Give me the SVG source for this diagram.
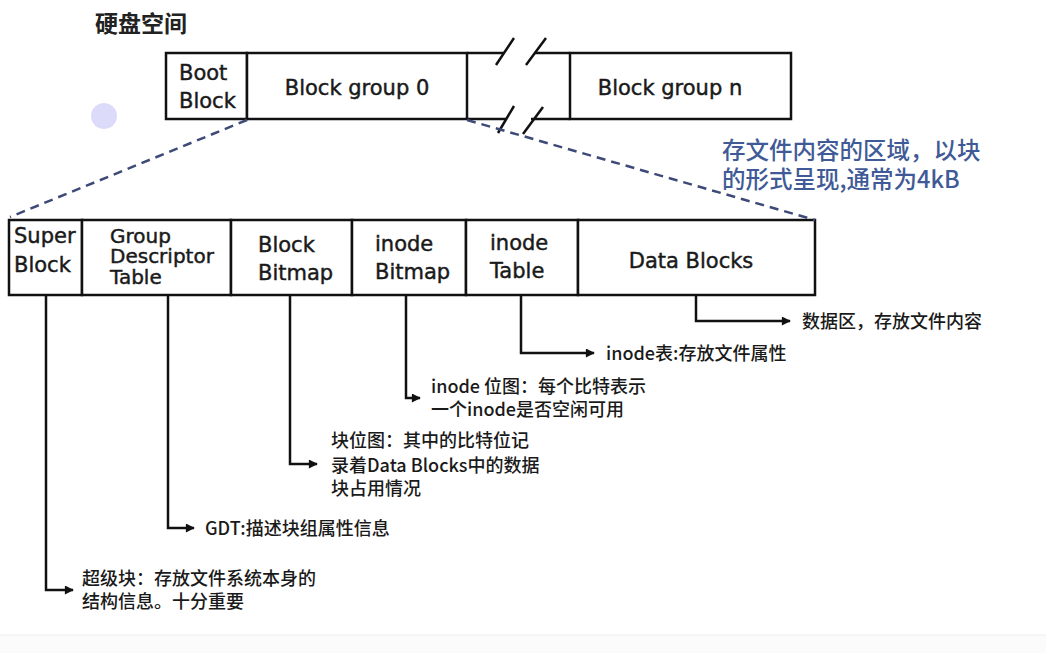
<svg xmlns="http://www.w3.org/2000/svg" width="1046" height="653" viewBox="0 0 1046 653">
  <defs>
    <marker id="arrow" viewBox="0 0 10 10" refX="9" refY="5" markerWidth="10" markerHeight="9" markerUnits="userSpaceOnUse" orient="auto">
      <path d="M0,0 L10,5 L0,10 Z" fill="#111"/>
    </marker>
    <style>
      .box { fill: #fff; stroke: #111; stroke-width: 2.5; }
      .div { stroke: #111; stroke-width: 2.5; fill: none; }
      .lbl { font-family: "DejaVu Sans", "Noto Sans", sans-serif; font-size: 21px; fill: #1a1a1a; stroke: #1a1a1a; stroke-width: 0.45; }
      .tight { font-size: 20px; }
      .note { font-family: "Noto Sans CJK SC", "Noto Sans", sans-serif; font-size: 18px; font-weight: 500; fill: #1a1a1a; }
      .blue { font-family: "Noto Sans CJK SC", sans-serif; font-size: 23.5px; font-weight: 500; fill: #3f5a96; }
      .title { font-family: "Noto Sans CJK SC", sans-serif; font-size: 23px; font-weight: 700; fill: #222; }
      .conn { stroke: #111; stroke-width: 2.5; fill: none; }
      .dash { stroke: #3d4a78; stroke-width: 2.5; stroke-dasharray: 9 6; fill: none; }
      .brk { stroke: #111; stroke-width: 2.5; fill: none; }
    </style>
  </defs>

  <rect width="1046" height="653" fill="#fff"/>
  <rect x="0" y="635" width="1046" height="18" fill="#fbfbfb"/>
  <line x1="0" y1="635" x2="1046" y2="635" stroke="#eeeeee" stroke-width="1"/>

  <circle cx="104" cy="116" r="13" fill="#dcdcfa"/>

  <text class="title" x="95" y="32">硬盘空间</text>

  <!-- disk layout bar -->
  <g id="disk">
    <g id="boot-block">
      <rect class="box" x="166" y="53" width="81" height="66"/>
      <text class="lbl" x="179" y="80">Boot</text>
      <text class="lbl" x="179" y="108">Block</text>
    </g>
    <g id="block-group-0">
      <rect class="box" x="247" y="53" width="220" height="66"/>
      <text class="lbl" x="357" y="95" text-anchor="middle">Block group 0</text>
    </g>
    <g id="gap">
      <path class="div" d="M467,53 H504 M534,53 H570 M467,119 H506 M531,119 H570"/>
      <path class="brk" d="M496,65 L514,38 M526,65 L546,38 M498,133 L514,106 M523,134 L543,107"/>
    </g>
    <g id="block-group-n">
      <rect class="box" x="570" y="53" width="221" height="66"/>
      <text class="lbl" x="670" y="95" text-anchor="middle">Block group n</text>
    </g>
  </g>

  <text class="blue" x="722" y="159">存文件内容的区域，以块</text>
  <text class="blue" x="722" y="188">的形式呈现,通常为4kB</text>

  <!-- block group detail -->
  <g id="group-detail">
    <g id="super-block">
      <rect class="box" x="9" y="220" width="73" height="75"/>
      <text class="lbl" x="14" y="243">Super</text>
      <text class="lbl" x="14" y="272">Block</text>
    </g>
    <g id="gdt">
      <rect class="box" x="82" y="220" width="149" height="75"/>
      <text class="lbl tight" x="110" y="243">Group</text>
      <text class="lbl tight" x="110" y="263">Descriptor</text>
      <text class="lbl tight" x="110" y="284">Table</text>
    </g>
    <g id="block-bitmap">
      <rect class="box" x="231" y="220" width="121" height="75"/>
      <text class="lbl" x="258" y="252">Block</text>
      <text class="lbl" x="258" y="280">Bitmap</text>
    </g>
    <g id="inode-bitmap">
      <rect class="box" x="352" y="220" width="114" height="75"/>
      <text class="lbl" x="375" y="251">inode</text>
      <text class="lbl" x="375" y="279">Bitmap</text>
    </g>
    <g id="inode-table">
      <rect class="box" x="466" y="220" width="112" height="75"/>
      <text class="lbl" x="490" y="250">inode</text>
      <text class="lbl" x="490" y="278">Table</text>
    </g>
    <g id="data-blocks">
      <rect class="box" x="578" y="220" width="237" height="75"/>
      <text class="lbl" x="691" y="268" text-anchor="middle">Data Blocks</text>
    </g>
  </g>

  <!-- annotations -->
  <g id="notes">
    <text class="note" x="802" y="328">数据区，存放文件内容</text>
    <text class="note" x="606" y="360">inode表:存放文件属性</text>
    <text class="note" x="431" y="393">inode 位图：每个比特表示</text>
    <text class="note" x="431" y="416">一个inode是否空闲可用</text>
    <text class="note" x="331" y="447">块位图：其中的比特位记</text>
    <text class="note" x="331" y="472">录着Data Blocks中的数据</text>
    <text class="note" x="331" y="495">块占用情况</text>
    <text class="note" x="205" y="535">GDT:描述块组属性信息</text>
    <text class="note" x="82" y="585">超级块：存放文件系统本身的</text>
    <text class="note" x="82" y="608">结构信息。十分重要</text>
  </g>

  <!-- connectors -->
  <g id="connectors">
    <path class="dash" d="M247,120 L10,217"/>
    <path class="dash" d="M467,120 L815,220"/>
    <path class="conn" marker-end="url(#arrow)" d="M696,296 V321 H790"/>
    <path class="conn" marker-end="url(#arrow)" d="M521,296 V353 H594"/>
    <path class="conn" marker-end="url(#arrow)" d="M406,296 V398 H420"/>
    <path class="conn" marker-end="url(#arrow)" d="M290,296 V464 H317"/>
    <path class="conn" marker-end="url(#arrow)" d="M168,296 V528 H194"/>
    <path class="conn" marker-end="url(#arrow)" d="M46,296 V590 H73"/>
  </g>
</svg>
